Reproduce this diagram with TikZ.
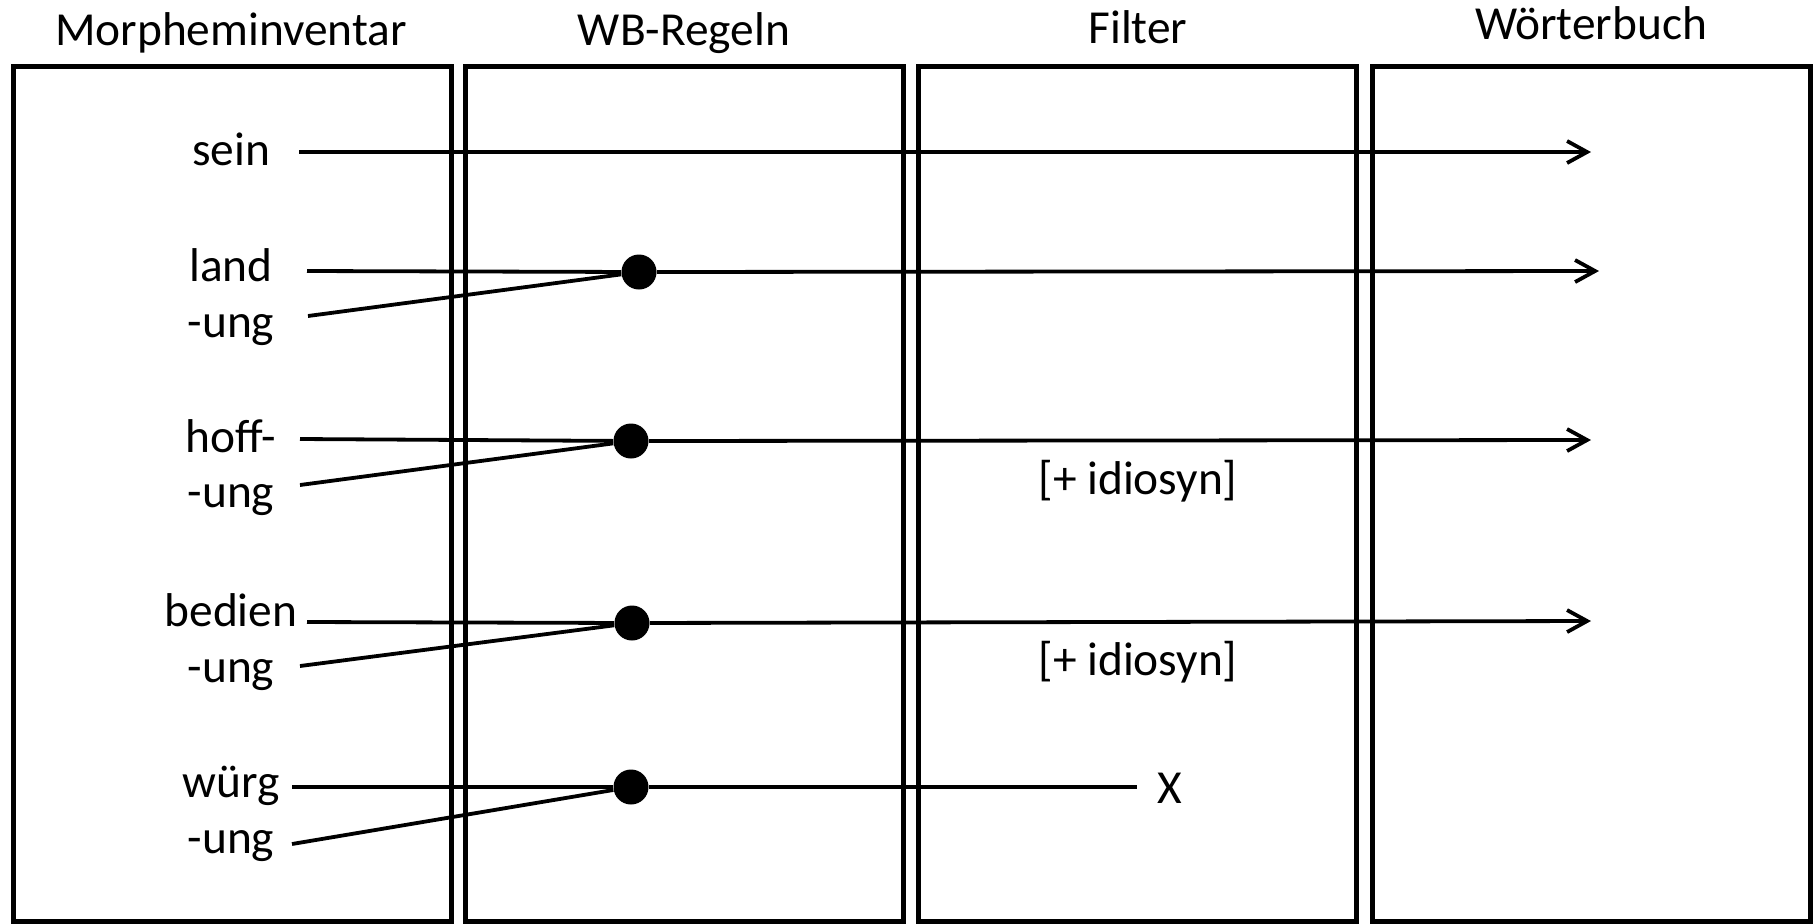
\documentclass[tikz,border=0pt]{standalone}
\usepackage{fontspec}
\setmainfont{Carlito}
\usetikzlibrary{positioning,arrows.meta}

\begin{document}
\begin{tikzpicture}[x=0.5pt,y=0.5pt]
    \tikzstyle{every node}=[inner sep=0,font=\fontsize{23.7}{28}\selectfont]
    \tikzstyle{column}=[draw,rectangle,line width=2.5pt,minimum width=219pt,minimum height=427.5pt]
    \tikzstyle{head}=[anchor=base]
    \tikzstyle{word}=[anchor=base]
    \tikzstyle{dot}=[circle,fill=black,minimum size=17.5pt]
    \tikzstyle{link}=[line width=1.9pt]
    \tikzstyle{goes}=[link,-{Straight Barb[length=10pt,width=11pt]}]
    \useasboundingbox (0,0) rectangle (1816,-923);
    {
        \node[column] (inv) at (232,-493.5) {};
        \node[column] (wbr) at (684,-493.5) {};
        \node[column] (fil) at (1137.5,-493.5) {};
        \node[column] (wbu) at (1591.5,-493.5) {};

        \node[head] (tinv) at (231,-45.5) {Morpheminventar};
        \node[head] (twbr) at (684,-45.5) {WB-Regeln};
        \node[head] (tfil) at (1138,-43) {Filter};
        \node[head] (twbu) at (1591,-39) {Wörterbuch};

        \node[word] (sein) at (231,-165) {sein};
        \node[word] (land) at (231,-281) {land};
        \node[word] (ung1) at (231,-337) {-ung};
        \node[word] (hoff) at (231,-452) {hoff-};
        \node[word] (ung2) at (231,-507) {-ung};
        \node[word] (bedi) at (231,-626) {bedien};
        \node[word] (ung3) at (231,-682) {-ung};
        \node[word] (wuer) at (231,-797) {würg};
        \node[word] (ung4) at (231,-853) {-ung};

        \node[word] (idio1) at (1138,-494) {[+ idiosyn]};
        \node[word] (idio2) at (1138,-675) {[+ idiosyn]};
        \node[word] (xout) at (1170,-803) {X};

        \node[dot] (d1) at (639,-272) {};
        \node[dot] (d2) at (631,-441) {};
        \node[dot] (d3) at (632,-623) {};
        \node[dot] (d4) at (631,-787) {};

        \coordinate (sein-s) at (299,-152);
        \coordinate (sein-e) at (1591,-152);
        \coordinate (land-s) at (307,-271);
        \coordinate (land-e) at (1599,-271);
        \coordinate (ung1-s) at (308,-316);
        \coordinate (hoff-s) at (300,-439);
        \coordinate (hoff-e) at (1591,-440);
        \coordinate (ung2-s) at (300,-485);
        \coordinate (bedi-s) at (307,-622);
        \coordinate (bedi-e) at (1591,-621);
        \coordinate (ung3-s) at (300,-666);
        \coordinate (wuer-s) at (292,-787);
        \coordinate (wuer-e) at (1137,-787);
        \coordinate (ung4-s) at (292,-844);

        \draw[goes] (sein-s) -- (sein-e);

        \draw[link] (land-s) -- (d1);
        \draw[link] (ung1-s) -- (d1);
        \draw[goes] (d1) -- (land-e);

        \draw[link] (hoff-s) -- (d2);
        \draw[link] (ung2-s) -- (d2);
        \draw[goes] (d2) -- (hoff-e);

        \draw[link] (bedi-s) -- (d3);
        \draw[link] (ung3-s) -- (d3);
        \draw[goes] (d3) -- (bedi-e);

        \draw[link] (wuer-s) -- (d4);
        \draw[link] (ung4-s) -- (d4);
        \draw[link] (d4) -- (wuer-e);
    }
\end{tikzpicture}
\end{document}
